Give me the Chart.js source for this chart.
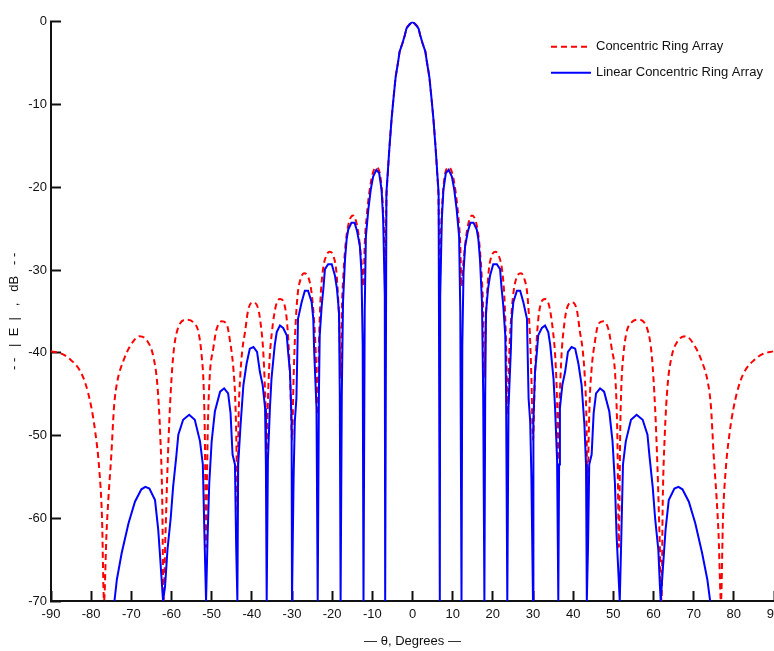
<!DOCTYPE html>
<html>
<head>
<meta charset="utf-8">
<title>Concentric ring array pattern</title>
<script src="https://cdn.jsdelivr.net/npm/chart.js@4.4.1/dist/chart.umd.min.js"></script>
<style>
  html, body { margin: 0; padding: 0; background: #fff; }
  #wrap { position: relative; width: 774px; height: 651px; }
</style>
</head>
<body>
<div id="wrap"><canvas id="patron"></canvas></div>
<script>
// ---------- Dades llegides de la figura ----------
const seriesNames = ['Concentric Ring Array', 'Linear Concentric Ring Array'];
const xTitle = '\u2014 \u03b8, Degrees \u2014';
const yTitle = '- -   |  E  |   ,   dB   - -';
const thetaRange = [-90, 90];
const gainRange = [-70, 0];

// Concentric Ring Array (red, dashed)
const redTheta = [
  -90, -87, -85, -83, -81.5, -80, -79, -78, -77.3, -76.8,
  -76.2, -75.7, -75, -74.3, -73.5, -72, -70.3, -68, -66, -64.5, -63.5, -62.8, -62.3, -62,
  -61.5, -61, -60.4, -59.6, -58.5, -56.2, -54.6, -53.3, -52.5, -52, -51.7, -51.4,
  -51, -50.5, -49.6, -48.8, -47.5, -46.3, -45.4, -44.6, -44.1, -43.8, -43.6,
  -43.3, -42.9, -42.4, -41.7, -40.9, -39.7, -38.4, -37.8, -37.2, -36.8, -36.5, -36.3,
  -36, -35.6, -35, -34, -33, -32, -31.3, -30.8, -30.4, -30,
  -29.6, -29.2, -28.6, -27.8, -27, -26, -25.2, -24.6, -24.1, -23.7,
  -23.3, -22.9, -22.3, -21.5, -20.6, -19.7, -19, -18.5, -18.2, -17.9,
  -17.6, -17.2, -16.6, -15.8, -14.8, -14, -13.4, -12.9, -12.5, -12.2,
  -11.9, -11.4, -10.8, -10, -9.1, -8.3, -7.7, -7.3, -7.0, -6.8,
  -6.5, -6.1, -5.8, -5.2, -4.7, -4.2, -3.6, -3.2, -2.5, -1.9, -1.5, -0.7, 0,
  0.7, 1.5, 1.9, 2.5, 3.2, 3.6, 4.2, 4.7, 5.2, 5.8, 6.1, 6.5,
  6.8, 7.0, 7.3, 7.7, 8.3, 9.1, 10, 10.8, 11.4, 11.9,
  12.2, 12.5, 12.9, 13.4, 14, 14.8, 15.8, 16.6, 17.2, 17.6,
  17.9, 18.2, 18.5, 19, 19.7, 20.6, 21.5, 22.3, 22.9, 23.3,
  23.7, 24.1, 24.6, 25.2, 26, 27, 27.8, 28.6, 29.2, 29.6,
  30, 30.4, 30.8, 31.3, 32, 33, 34, 35, 35.6, 36,
  36.3, 36.5, 36.8, 37.2, 37.8, 38.4, 39.7, 40.9, 41.7, 42.4, 42.9, 43.3,
  43.6, 43.8, 44.1, 44.6, 45.4, 46.3, 47.5, 48.8, 49.6, 50.5, 51,
  51.4, 51.7, 52, 52.5, 53.3, 54.6, 56.2, 58.5, 59.6, 60.4, 61, 61.5,
  62, 62.3, 62.8, 63.5, 64.5, 66, 68, 70.3, 72, 73.5, 74.3, 75, 75.7, 76.2,
  76.8, 77.3, 78, 79, 80, 81.5, 83, 85, 87, 90
];
const redGain = [
  -39.8, -40.2, -40.9, -42.0, -43.6, -46.5, -49.5, -54, -60, -70,
  -62, -57.5, -52.5, -46.5, -43.5, -41, -39.2, -38, -38.6, -40.5, -44, -50, -58, -70,
  -62, -54, -46.7, -40.5, -37.2, -36, -36.3, -37.5, -40.3, -44, -50, -63.5,
  -50, -43, -39.5, -37.2, -36.2, -36.5, -38.7, -41.9, -46, -52, -59.2,
  -48, -43, -39.8, -37.5, -34.8, -33.9, -34.7, -36.5, -39.5, -43.5, -48, -53,
  -46, -41, -37.5, -34.3, -33.5, -34, -36, -39.5, -44, -50.5,
  -43, -37.5, -33, -31, -30.4, -30.8, -32.5, -35.5, -40, -47.5,
  -39, -33.5, -30, -28.3, -27.8, -28.3, -30, -33.5, -37, -43,
  -35, -30.5, -26.6, -24.2, -23.4, -24.2, -25.8, -28, -30, -32,
  -27, -23.5, -20.8, -18.5, -17.6, -18, -20, -23, -27, -32,
  -22, -18, -15.6, -11.7, -9.1, -6.7, -4.9, -3.6, -2.6, -1.6, -0.8, -0.3, 0,
  -0.3, -0.8, -1.6, -2.6, -3.6, -4.9, -6.7, -9.1, -11.7, -15.6, -18, -22,
  -32, -27, -23, -20, -18, -17.6, -18.5, -20.8, -23.5, -27,
  -32, -30, -28, -25.8, -24.2, -23.4, -24.2, -26.6, -30.5, -35,
  -43, -37, -33.5, -30, -28.3, -27.8, -28.3, -30, -33.5, -39,
  -47.5, -40, -35.5, -32.5, -30.8, -30.4, -31, -33, -37.5, -43,
  -50.5, -44, -39.5, -36, -34, -33.5, -34.3, -37.5, -41, -46,
  -53, -48, -43.5, -39.5, -36.5, -34.7, -33.9, -34.8, -37.5, -39.8, -43, -48,
  -59.2, -52, -46, -41.9, -38.7, -36.5, -36.2, -37.2, -39.5, -43, -50,
  -63.5, -50, -44, -40.3, -37.5, -36.3, -36, -37.2, -40.5, -46.7, -54, -62,
  -70, -58, -50, -44, -40.5, -38.6, -38, -39.2, -41, -43.5, -46.5, -52.5, -57.5, -62,
  -70, -60, -54, -49.5, -46.5, -43.6, -42.0, -40.9, -40.2, -39.8
];

// Linear Concentric Ring Array (blue, solid)
const blueTheta = [
  -74.2, -73.6, -72.4, -70.7, -69.1, -67.5, -66.5, -65.5, -64.1, -63.3, -62.9, -62.1,
  -61.6, -61.0, -60.2, -59.6, -58.8, -58.3, -57.1, -55.6, -54.2, -52.9, -52.2, -51.8, -51.4,
  -51.0, -50.6, -50.0, -49.2, -47.9, -46.9, -45.9, -45.3, -44.8, -44.2, -43.9, -43.6,
  -43.4, -42.8, -42.1, -41.3, -40.5, -39.6, -38.7, -38.0, -37.3, -36.7, -36.5, -36.3,
  -36.0, -35.5, -35.1, -34.3, -33.8, -33.0, -32.2, -31.3, -30.9, -30.5, -30.1, -30.0,
  -29.6, -29.3, -28.9, -28.5, -27.6, -26.8, -26.0, -25.1, -24.7, -24.5, -23.9, -23.6,
  -23.3, -23.1, -22.6, -22.2, -21.8, -21.0, -20.1, -19.3, -18.8, -18.3, -18.1, -17.9,
  -17.6, -17.3, -16.8, -16.4, -16.0, -15.2, -14.4, -13.8, -13.1, -12.7, -12.4, -12.2,
  -11.9, -11.6, -11.0, -10.4, -9.8, -9.0, -8.3, -7.7, -7.3, -6.9, -6.8,
  -6.5, -5.8, -5.2, -4.7, -4.2, -3.6, -3.2, -2.5, -1.9, -1.5, -0.7, 0,
  0.7, 1.5, 1.9, 2.5, 3.2, 3.6, 4.2, 4.7, 5.2, 5.8, 6.5,
  6.8, 6.9, 7.3, 7.7, 8.3, 9.0, 9.8, 10.4, 11.0, 11.6, 11.9,
  12.2, 12.4, 12.7, 13.1, 13.8, 14.4, 15.2, 16.0, 16.4, 16.8, 17.3, 17.6,
  17.9, 18.1, 18.3, 18.8, 19.3, 20.1, 21.0, 21.8, 22.2, 22.6, 23.1, 23.3,
  23.6, 23.9, 24.5, 24.7, 25.1, 26.0, 26.8, 27.6, 28.5, 28.9, 29.3, 29.6,
  30.0, 30.1, 30.5, 30.9, 31.3, 32.2, 33.0, 33.8, 34.3, 35.1, 35.5, 36.0,
  36.3, 36.5, 36.7, 37.3, 38.0, 38.7, 39.6, 40.5, 41.3, 42.1, 42.8, 43.2,
  43.4, 43.7, 44.0, 44.6, 45.1, 45.7, 46.7, 47.7, 49.0, 49.8, 50.4, 50.8,
  51.6, 52.0, 52.4, 53.1, 54.4, 55.8, 57.3, 58.5, 59.0, 59.8, 60.4, 61.2, 61.6,
  61.8, 62.6, 63.0, 63.8, 65.2, 66.2, 67.2, 68.8, 70.4, 72.1, 73.4, 74.1
];
const blueGain = [
  -70, -67.4, -64.2, -60.6, -58.0, -56.5, -56.2, -56.4, -57.8, -61.4, -64.2, -70,
  -68.2, -63.8, -60.0, -56.2, -52.5, -49.9, -48.1, -47.5, -48.1, -50.7, -53.5, -62.0, -70,
  -62.0, -55.8, -50.7, -47.1, -44.7, -44.3, -44.9, -47.3, -52.3, -53.5, -63.4, -70,
  -53.5, -48.7, -43.9, -41.3, -39.5, -39.3, -39.9, -42.3, -43.9, -46.7, -53.5, -70,
  -53.0, -46.7, -43.1, -39.1, -37.5, -36.7, -37.0, -37.9, -40.3, -42.3, -48.3, -70,
  -55.0, -48.3, -45.5, -35.9, -33.9, -32.5, -32.5, -33.9, -35.9, -39.5, -46.7, -70,
  -45.0, -37.9, -34.3, -32.3, -29.9, -29.3, -29.3, -30.7, -32.3, -35.1, -45.1, -70,
  -45.0, -33.9, -28.7, -26.3, -25.1, -24.3, -24.3, -25.3, -27.1, -30.3, -39.1, -70,
  -35.0, -25.9, -22.7, -20.3, -18.7, -17.9, -18.3, -20.3, -23.9, -33.1, -70,
  -20.7, -15.6, -11.7, -9.1, -6.7, -4.9, -3.6, -2.6, -1.6, -0.8, -0.3, 0,
  -0.3, -0.8, -1.6, -2.6, -3.6, -4.9, -6.7, -9.1, -11.7, -15.6, -20.7,
  -70, -33.1, -23.9, -20.3, -18.3, -17.9, -18.7, -20.3, -22.7, -25.9, -35.0,
  -70, -39.1, -30.3, -27.1, -25.3, -24.3, -24.3, -25.1, -26.3, -28.7, -33.9, -45.0,
  -70, -45.1, -35.1, -32.3, -30.7, -29.3, -29.3, -29.9, -32.3, -34.3, -37.9, -45.0,
  -70, -46.7, -39.5, -35.9, -33.9, -32.5, -32.5, -33.9, -35.9, -45.5, -48.3, -55.0,
  -70, -48.3, -42.3, -40.3, -37.9, -37.0, -36.7, -37.5, -39.1, -43.1, -46.7, -53.0,
  -70, -53.5, -46.7, -43.9, -42.3, -39.9, -39.3, -39.5, -41.3, -43.9, -48.7, -53.5,
  -70, -63.4, -53.5, -52.3, -47.3, -44.9, -44.3, -44.7, -47.1, -50.7, -55.8, -62.0,
  -70, -62.0, -53.5, -50.7, -48.1, -47.5, -48.1, -49.9, -52.5, -56.2, -60.0, -63.8, -68.2,
  -70, -64.2, -61.4, -57.8, -56.4, -56.2, -56.5, -58.0, -60.6, -64.2, -67.4, -70
];

const toPoints = (xs, ys) => xs.map((x, i) => ({ x: x, y: ys[i] }));

const fontFamily = "'Liberation Sans', Arial, sans-serif";

// ---------- Llegenda dins l'àrea del gràfic ----------
const seriesKey = {
  id: 'seriesKey',
  afterDatasetsDraw(chart) {
    const { ctx, chartArea } = chart;
    const x0 = chartArea.right - 223;
    chart.data.datasets.forEach((ds, i) => {
      const y = chartArea.top + 25 + i * 26;
      ctx.save();
      ctx.strokeStyle = ds.borderColor;
      ctx.lineWidth = ds.borderWidth;
      ctx.setLineDash(ds.borderDash || []);
      ctx.beginPath();
      ctx.moveTo(x0, y);
      ctx.lineTo(x0 + 40, y);
      ctx.stroke();
      ctx.setLineDash([]);
      ctx.fillStyle = '#111';
      ctx.font = '13px ' + fontFamily;
      ctx.textBaseline = 'middle';
      ctx.fillText(ds.label, x0 + 45, y);
      ctx.restore();
    });
  }
};

// ---------- Gràfic ----------
new Chart(document.getElementById('patron'), {
  type: 'scatter',
  data: {
    datasets: [
      {
        label: seriesNames[0],
        data: toPoints(redTheta, redGain),
        showLine: true,
        borderColor: '#ff0000',
        borderWidth: 2,
        borderDash: [6, 4],
        pointRadius: 0,
        cubicInterpolationMode: 'monotone',
        order: 2
      },
      {
        label: seriesNames[1],
        data: toPoints(blueTheta, blueGain),
        showLine: true,
        borderColor: '#0000ff',
        borderWidth: 2,
        pointRadius: 0,
        tension: 0,
        order: 1
      }
    ]
  },
  options: {
    responsive: true,
    maintainAspectRatio: false,
    animation: false,
    layout: { padding: { top: 17, right: 0, left: 0, bottom: 0 } },
    plugins: {
      legend: { display: false },
      tooltip: { enabled: false }
    },
    scales: {
      x: {
        type: 'linear',
        min: thetaRange[0],
        max: thetaRange[1],
        ticks: {
          stepSize: 10,
          autoSkip: false,
          maxRotation: 0,
          padding: 16,
          color: '#111',
          font: { family: fontFamily, size: 13 }
        },
        grid: {
          drawOnChartArea: false,
          tickLength: -10,
          tickWidth: 2,
          tickColor: '#111'
        },
        border: { color: '#111', width: 2 },
        title: {
          display: true,
          text: xTitle,
          color: '#111',
          font: { family: fontFamily, size: 13 },
          padding: { top: 0, bottom: 2 }
        },
        afterFit: scale => {
          scale.height = 50;
          scale.paddingLeft = 0;
          scale.paddingRight = 0;
        }
      },
      y: {
        type: 'linear',
        min: gainRange[0],
        max: gainRange[1],
        ticks: {
          stepSize: 10,
          padding: 14,
          color: '#111',
          font: { family: fontFamily, size: 13 }
        },
        grid: {
          drawOnChartArea: false,
          tickLength: -10,
          tickWidth: 2,
          tickColor: '#111'
        },
        border: { color: '#111', width: 2 },
        title: {
          display: true,
          text: yTitle,
          color: '#111',
          font: { family: fontFamily, size: 13 },
          padding: { top: 7, bottom: 0 }
        },
        afterFit: scale => {
          scale.width = 51;
        }
      }
    }
  },
  plugins: [seriesKey]
});
</script>
</body>
</html>
